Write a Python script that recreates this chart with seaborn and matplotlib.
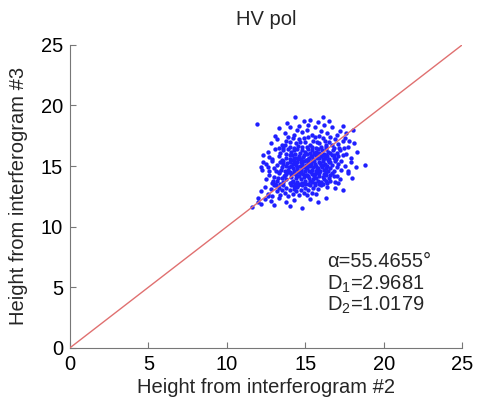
import matplotlib
matplotlib.use('Agg')
import matplotlib.pyplot as plt
import seaborn as sns
import pandas as pd

# points, grouped in height bands (x = interferogram #2, y = #3)
pts_top = [(14.35, 19.05), (16.1, 19.05), (15.3, 18.8), (16.5, 18.7), (13.85, 18.55), (11.9, 18.5),
           (15.8, 18.6), (14.9, 18.7), (13.3, 18.1), (14.0, 18.2), (14.6, 18.3), (15.1, 18.0),
           (15.6, 18.2), (16.0, 17.9), (16.7, 18.2), (17.2, 17.9), (18.05, 18.0), (13.7, 17.7),
           (14.3, 17.6), (14.8, 17.8), (15.4, 17.6), (15.9, 17.5), (16.4, 17.7), (17.0, 17.6),
           (17.6, 17.7), (13.1, 17.5), (14.5, 18.0), (15.2, 18.4), (16.2, 18.4), (17.4, 18.3)]
pts_17 = [(12.8, 16.9), (13.2, 17.2), (13.5, 16.7), (13.8, 17.1), (14.0, 16.6), (14.2, 17.3),
          (14.4, 16.9), (14.6, 17.2), (14.8, 16.6), (15.0, 17.0), (15.2, 17.4), (15.3, 16.7),
          (15.5, 17.1), (15.7, 16.5), (15.9, 16.9), (16.1, 17.3), (16.3, 16.6), (16.5, 17.0),
          (16.7, 16.7), (16.9, 17.2), (17.1, 16.8), (17.4, 17.1), (17.7, 16.6), (18.1, 16.9),
          (13.6, 16.5), (14.3, 16.5), (15.1, 16.6), (16.0, 16.6), (16.8, 16.5), (13.9, 17.4),
          (15.6, 17.4), (16.6, 17.4), (14.9, 17.3)]
pts_16 = [(12.3, 15.9), (12.6, 16.2), (12.9, 15.6), (13.1, 16.4), (13.3, 15.8), (13.4, 16.1),
          (13.5, 15.5), (13.6, 16.3), (13.75, 15.7), (13.8, 16.0), (13.9, 16.4), (14.0, 15.6),
          (14.1, 16.2), (14.15, 15.9), (14.2, 15.5), (14.3, 16.3), (14.35, 16.0), (14.4, 15.7),
          (14.5, 16.4), (14.6, 15.8), (14.65, 16.1), (14.7, 15.6), (14.8, 16.3), (14.9, 15.9),
          (15.0, 16.2), (15.05, 15.5), (15.1, 16.0), (15.2, 16.4), (15.25, 15.7), (15.3, 16.1),
          (15.4, 15.8), (15.45, 16.3), (15.5, 15.6), (15.6, 16.0), (15.65, 16.2), (15.7, 15.9),
          (15.8, 16.4), (15.85, 15.7), (15.9, 16.1), (16.0, 15.8), (16.05, 16.3), (16.1, 15.9),
          (16.2, 16.0), (16.25, 15.7), (16.3, 16.4), (16.4, 15.8), (16.45, 16.2), (16.5, 15.6),
          (16.6, 16.1), (16.7, 15.9), (16.75, 16.3), (16.8, 15.7), (17.0, 16.1), (17.1, 15.8),
          (17.2, 16.3), (17.4, 15.9), (17.6, 16.0), (17.9, 15.7), (18.3, 16.2), (12.3, 15.3)]
pts_15 = [(12.2, 14.9), (12.5, 15.2), (12.7, 14.6), (12.9, 15.4), (13.0, 14.8), (13.2, 15.1),
          (13.3, 14.5), (13.4, 15.3), (13.5, 14.9), (13.6, 15.4), (13.7, 14.6), (13.8, 15.0),
          (13.9, 14.7), (14.0, 15.3), (14.05, 14.5), (14.1, 15.0), (14.2, 14.8), (14.25, 15.4),
          (14.3, 14.6), (14.4, 15.1), (14.45, 14.9), (14.5, 15.3), (14.6, 14.5), (14.65, 15.0),
          (14.7, 14.7), (14.8, 15.2), (14.85, 14.9), (14.9, 15.45), (15.0, 14.6), (15.05, 15.1),
          (15.1, 14.8), (15.2, 15.3), (15.25, 14.55), (15.3, 15.0), (15.4, 14.7), (15.45, 15.4),
          (15.5, 14.9), (15.6, 15.2), (15.65, 14.6), (15.7, 15.0), (15.8, 14.8), (15.85, 15.35),
          (15.9, 14.55), (16.0, 15.1), (16.05, 14.9), (16.1, 15.4), (16.2, 14.7), (16.25, 15.2),
          (16.3, 14.5), (16.4, 15.0), (16.5, 15.3), (16.6, 14.8), (16.7, 15.1), (16.8, 14.6),
          (16.9, 15.4), (17.0, 14.9), (17.1, 15.2), (17.3, 14.7), (17.5, 15.0), (17.7, 14.6),
          (17.9, 15.3), (18.2, 14.9), (18.8, 15.1), (13.55, 15.15), (14.35, 15.25), (15.15, 15.05),
          (15.95, 15.25), (16.45, 14.6), (14.75, 14.55), (13.85, 15.25), (12.25, 14.7)]
pts_14 = [(12.5, 13.9), (12.7, 14.3), (12.9, 13.6), (13.0, 14.1), (13.2, 13.8), (13.3, 14.4),
          (13.4, 13.5), (13.5, 14.0), (13.6, 13.7), (13.7, 14.3), (13.8, 13.9), (13.9, 14.5),
          (14.0, 13.6), (14.1, 14.1), (14.2, 13.8), (14.3, 14.4), (14.35, 13.5), (14.4, 14.0),
          (14.5, 13.7), (14.6, 14.2), (14.7, 13.9), (14.75, 14.45), (14.8, 13.6), (14.9, 14.1),
          (15.0, 13.8), (15.1, 14.3), (15.2, 13.55), (15.25, 14.0), (15.3, 13.75), (15.4, 14.35),
          (15.5, 13.9), (15.55, 14.2), (15.6, 13.6), (15.7, 14.0), (15.8, 13.8), (15.9, 14.4),
          (16.0, 13.65), (16.1, 14.1), (16.2, 13.9), (16.3, 14.3), (16.4, 13.6), (16.5, 14.0),
          (16.6, 13.8), (16.7, 14.4), (16.9, 13.7), (17.0, 14.2), (17.2, 13.9), (17.4, 13.0),
          (17.7, 14.4), (18.0, 14.0), (13.1, 13.55), (13.65, 14.15), (14.15, 13.65), (14.65, 13.55),
          (15.15, 14.15), (15.65, 14.45), (16.15, 13.55), (16.55, 14.25), (17.1, 13.6), (15.85, 14.15)]
pts_13 = [(12.2, 12.9), (12.4, 13.3), (12.6, 12.7), (12.8, 13.1), (12.9, 12.5), (13.0, 13.4),
          (13.2, 12.9), (13.3, 13.2), (13.4, 12.6), (13.5, 13.0), (13.6, 13.4), (13.7, 12.8),
          (13.8, 13.2), (13.9, 12.5), (14.0, 13.0), (14.1, 13.4), (14.2, 12.7), (14.3, 13.1),
          (14.4, 12.9), (14.5, 13.3), (14.6, 12.6), (14.7, 13.0), (14.8, 13.4), (14.9, 12.8),
          (15.0, 13.2), (15.1, 12.6), (15.2, 13.0), (15.3, 13.4), (15.4, 12.8), (15.5, 13.2),
          (15.7, 12.7), (15.8, 13.1), (16.0, 13.4), (16.4, 13.3),
          (16.9, 13.2), (13.15, 13.45), (14.25, 13.35), (15.6, 13.45)]
pts_low = [(11.6, 11.6), (12.0, 12.0), (12.4, 12.3), (12.8, 12.1), (13.3, 12.4), (13.8, 12.0),
           (14.8, 11.55), (14.3, 12.2), (15.3, 12.3), (15.8, 12.0), (12.2, 11.9), (13.0, 11.8),
           (14.0, 11.7), (16.3, 12.4), (12.0, 12.4), (12.6, 12.5)]
# densest part of the cloud
pts_core = [(14.0, 15.9), (14.25, 15.65), (14.55, 15.55), (14.85, 15.75), (15.15, 15.6), (15.35, 15.85),
            (15.55, 16.1), (15.75, 15.65), (16.15, 15.55), (16.35, 15.95), (14.1, 14.35), (14.4, 14.25),
            (14.55, 14.5), (14.85, 14.35), (15.05, 14.3), (15.35, 14.5), (15.6, 14.35), (15.95, 14.6),
            (16.2, 14.35), (16.35, 14.8), (13.95, 14.95), (14.2, 15.15), (14.5, 14.75), (14.75, 15.35),
            (15.05, 14.85), (15.35, 15.2), (15.55, 15.45), (15.75, 14.75), (16.15, 15.05), (16.45, 15.5),
            (16.6, 15.35), (16.85, 15.95), (16.95, 15.55), (17.15, 16.5), (16.3, 16.75), (15.45, 16.6),
            (14.55, 16.65), (13.7, 16.7), (13.45, 14.65), (13.75, 14.35), (13.25, 14.05), (12.95, 13.8),
            (14.55, 13.45), (15.0, 13.5), (15.45, 13.65), (15.9, 13.5), (16.35, 13.75), (16.8, 14.15),
            (17.3, 15.45), (17.45, 16.45), (17.8, 17.1), (17.55, 17.35), (16.25, 17.05), (15.75, 17.0),
            (14.65, 17.0), (14.05, 17.0), (13.35, 16.5), (12.7, 15.75), (12.6, 14.95), (13.15, 14.55)]

diag_x = [0, 25]
diag_y = [0, 25]
ticks = [0, 5, 10, 15, 20, 25]
alpha_txt = '\u03b1=55.4655\u00b0'
d1_txt = 'D$_1$=2.9681'
d2_txt = 'D$_2$=1.0179'

all_pts = pts_top + pts_17 + pts_16 + pts_15 + pts_14 + pts_13 + pts_low + pts_core
df = pd.DataFrame(all_pts, columns=['h2', 'h3'])

sns.set_style('ticks')
plt.rcParams['font.family'] = ['Liberation Sans', 'DejaVu Sans']
plt.rcParams['mathtext.fontset'] = 'custom'
plt.rcParams['mathtext.rm'] = 'Liberation Sans'
plt.rcParams['mathtext.default'] = 'rm'

fig = plt.figure(figsize=(4.79, 4.04), dpi=100)
ax = fig.add_axes([0.146, 0.139, 0.819, 0.750])

sns.scatterplot(data=df, x='h2', y='h3', ax=ax, color='#1f1fff', s=10,
                linewidth=0, marker='o', zorder=2)
sns.lineplot(x=diag_x, y=diag_y, ax=ax, color='#e07070', linewidth=1.0, zorder=3)

ax.set_xlim(0, 25)
ax.set_ylim(0, 25)
ax.set_xticks(ticks)
ax.set_yticks(ticks)
ax.tick_params(direction='in', length=4, width=0.8, color='#777777',
               labelsize=14.5, labelcolor='black', pad=5)
for side in ['top', 'right']:
    ax.spines[side].set_visible(False)
for side in ['left', 'bottom']:
    ax.spines[side].set_color('#777777')
    ax.spines[side].set_linewidth(0.8)

ax.set_xlabel('Height from interferogram #2', fontsize=14.5, labelpad=3)
ax.set_ylabel('Height from interferogram #3', fontsize=14.5, labelpad=9)
ax.set_title('HV pol', fontsize=14.5, pad=14)

ax.text(16.4, 7.1, alpha_txt, fontsize=14.5, va='center', ha='left')
ax.text(16.4, 5.2, d1_txt, fontsize=14.5, va='center', ha='left')
ax.text(16.4, 3.5, d2_txt, fontsize=14.5, va='center', ha='left')

fig.savefig('out.png', dpi=100)
